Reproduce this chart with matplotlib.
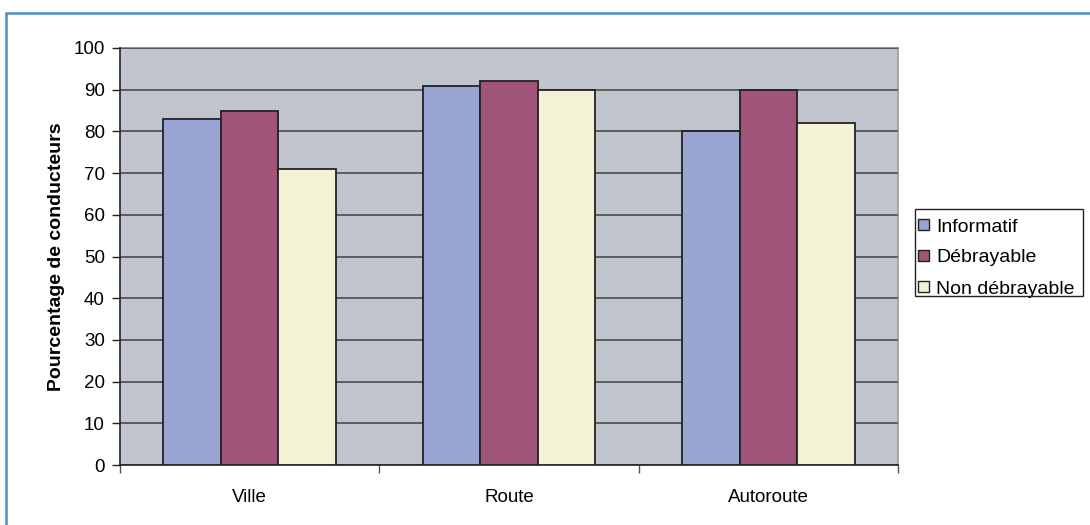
import matplotlib
matplotlib.use("Agg")
import matplotlib.pyplot as plt
import numpy as np
from matplotlib.patches import Rectangle

categories = ["Ville", "Route", "Autoroute"]
series_names = ["Informatif", "Débrayable", "Non débrayable"]
informatif = [83, 91, 80]
debrayable = [85, 92, 90]
non_debrayable = [71, 90, 82]
yticks = [0, 10, 20, 30, 40, 50, 60, 70, 80, 90, 100]
colors = ["#99a4d3", "#a05479", "#f3f2d5"]

plt.rcParams['font.family'] = ['Liberation Sans', 'DejaVu Sans']

fig = plt.figure(figsize=(10.9, 5.25), dpi=100)
ax = fig.add_axes([120/1090, 60/525, 778/1090, 417/525])
ax.set_facecolor("#c0c4cc")

x = np.arange(len(categories))
w = 1/4.5
for i, (vals, name) in enumerate(zip([informatif, debrayable, non_debrayable], series_names)):
    ax.bar(x + (i - 1) * w, vals, width=w, color=colors[i], edgecolor="#222222",
           linewidth=1.3, label=name, zorder=3)

ax.set_xlim(-0.5, 2.5)
ax.set_ylim(0, 100)
ax.set_yticks(yticks)
ax.yaxis.grid(True, color="#555555", linewidth=1.3, zorder=1)
ax.set_axisbelow(True)
ax.set_xticks([-0.5, 0.5, 1.5, 2.5])
ax.set_xticklabels([])
ax.set_xticks(x, minor=True)
ax.set_xticklabels(categories, minor=True, fontsize=13.5)
ax.tick_params(axis='x', which='minor', length=0, pad=17)
ax.tick_params(axis='x', which='major', length=6, width=1, color="#555555", direction='out')
ax.tick_params(axis='y', length=6, width=1, color="#222222", labelsize=13.5, pad=5)
for s in ["top", "right"]:
    ax.spines[s].set_visible(False)
ax.spines["left"].set_color("#222222")
ax.spines["bottom"].set_color("#222222")
ax.spines["left"].set_linewidth(1.2)
ax.spines["bottom"].set_linewidth(1.2)
ax.plot([1, 1], [0, 1], transform=ax.transAxes, color="#999999", linewidth=1.2, clip_on=False, zorder=0)
ax.plot([0, 1], [1, 1], transform=ax.transAxes, color="#888888", linewidth=1.3, clip_on=False, zorder=0)

ax.set_ylabel("Pourcentage de conducteurs", fontsize=14, fontweight='bold', labelpad=6)

# legend entries (frame drawn separately to match the reference box)
leg = ax.legend(loc='center left', bbox_to_anchor=(918/1090, 1 - 258/525),
                bbox_transform=fig.transFigure, fontsize=14, frameon=False,
                handlelength=0.55, handleheight=0.55,
                handletextpad=0.4, borderpad=0.0, labelspacing=0.72, borderaxespad=0)
for h in leg.legend_handles:
    h.set_linewidth(1.0)
    h.set_edgecolor("#222222")

fig.patches.append(Rectangle((915/1090, 1 - 296/525), 168/1090, 87/525, transform=fig.transFigure,
                             fill=False, edgecolor="#222222", linewidth=1.0))

fig.patches.append(Rectangle((6/1090, -0.1), 1.2, 1 - 13/525 + 0.1, transform=fig.transFigure,
                             fill=False, edgecolor="#4a90c8", linewidth=1.8))

fig.savefig("out.png", dpi=100)
